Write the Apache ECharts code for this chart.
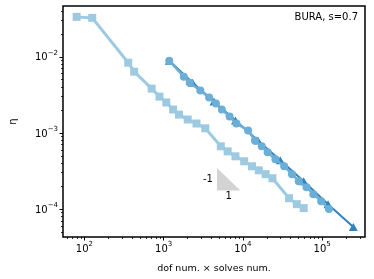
<!DOCTYPE html>
<html>
<head>
<meta charset="utf-8">
<script src="https://cdn.jsdelivr.net/npm/echarts@6/dist/echarts.min.js"></script>
<style>
html,body{margin:0;padding:0;background:#fff;}
#c{width:374px;height:279px;}
</style>
</head>
<body>
<div id="c"></div>
<script>
// ---- data ----
const sqX = [79.7, 125.4, 357, 424, 705, 885, 1079, 1315, 1559, 2011, 2594, 3347, 5264, 6416, 8049, 10380, 13020, 15880, 19370, 23610, 38200, 47900, 58500];
const sqY = [0.0334, 0.0324, 0.00835, 0.00637, 0.00382, 0.0030, 0.00251, 0.00203, 0.00174, 0.00150, 0.00133, 0.00115, 0.000667, 0.000573, 0.000493, 0.000424, 0.000365, 0.000323, 0.000287, 0.000254, 0.000139, 0.000116, 0.000103];
const ciX = [1175, 1795, 2128, 2905, 3748, 4571, 5420, 6796, 8282, 11630, 14190, 17300, 20510, 25720, 33190, 41610, 50730, 63560, 77480, 97230, 121800];
const ciY = [0.00887, 0.00548, 0.00457, 0.00360, 0.00291, 0.00243, 0.00203, 0.00164, 0.00133, 0.00108, 0.000798, 0.000667, 0.000556, 0.000451, 0.000365, 0.000287, 0.000232, 0.000194, 0.000157, 0.000127, 0.000100];
const trX = [1175, 2317, 4314, 8049, 15450, 29580, 58450, 118700, 247600];
const trY = [0.00887, 0.004571, 0.002582, 0.001455, 0.000798, 0.000437, 0.000232, 0.000116, 0.0000582];
const slopeX = [4700, 9300];
const slopeY = [0.000345, 0.000175];
const slopeLabels = ['-1', '1'];
const titleText = 'BURA, s=0.7';
const xLabelText = 'dof num. \u00d7 solves num.';
const yLabelText = '\u03b7';
const xMajorTicks = [100, 1000, 10000, 100000];
const yMajorTicks = [0.0001, 0.001, 0.01];
const xMinorTicks = [60, 70, 80, 90, 200, 300, 400, 500, 600, 700, 800, 900, 2000, 3000, 4000, 5000, 6000, 7000, 8000, 9000, 20000, 30000, 40000, 50000, 60000, 70000, 80000, 90000, 200000, 300000];
const yMinorTicks = [0.00005, 0.00006, 0.00007, 0.00008, 0.00009, 0.0002, 0.0003, 0.0004, 0.0005, 0.0006, 0.0007, 0.0008, 0.0009, 0.002, 0.003, 0.004, 0.005, 0.006, 0.007, 0.008, 0.009, 0.02, 0.03, 0.04];
const X_MIN = 53.6, X_MAX = 347500, Y_MIN = 0.000043, Y_MAX = 0.0464;

const FONT = 'DejaVu Sans';
const zip = (a, b) => a.map((v, i) => [v, b[i]]);

function powLabel(v) {
  const e = Math.round(Math.log10(v));
  return '{b|10}{s|' + (e < 0 ? '\u2212' + (-e) : e) + '}';
}
const rich = {
  b: {fontFamily: FONT, fontSize: 10, color: '#000', verticalAlign: 'bottom', lineHeight: 12},
  s: {fontFamily: FONT, fontSize: 7, color: '#000', verticalAlign: 'bottom', lineHeight: 8, padding: [0, 0, 6, 0]}
};

const chart = echarts.init(document.getElementById('c'));
const baseX = {type: 'log', logBase: 10, min: X_MIN, max: X_MAX, splitLine: {show: false}};
const baseY = {type: 'log', logBase: 10, min: Y_MIN, max: Y_MAX, splitLine: {show: false}};
chart.setOption({
  animation: false,
  backgroundColor: '#fff',
  grid: {left: 55, top: 6, right: 9, bottom: 41, show: true, borderColor: '#000', borderWidth: 1.5, backgroundColor: 'transparent'},
  title: {text: titleText, right: 11, top: 7, textStyle: {fontFamily: FONT, fontSize: 10, fontWeight: 'normal', color: '#000'}},
  xAxis: [
    Object.assign({}, baseX, {
      name: xLabelText, nameLocation: 'middle', nameGap: 27,
      nameTextStyle: {fontFamily: FONT, fontSize: 9.5, color: '#000'},
      axisLine: {show: false},
      axisTick: {show: true, length: 3.5, lineStyle: {color: '#000', width: 1}, customValues: xMajorTicks},
      axisLabel: {show: true, margin: 5, customValues: xMajorTicks, formatter: powLabel, rich: rich}
    }),
    Object.assign({}, baseX, {
      position: 'bottom',
      axisLine: {show: false},
      axisTick: {show: true, length: 2, lineStyle: {color: '#000', width: 0.8}, customValues: xMinorTicks},
      axisLabel: {show: false}
    })
  ],
  yAxis: [
    Object.assign({}, baseY, {
      name: yLabelText, nameLocation: 'middle', nameGap: 45, nameRotate: 90,
      nameTextStyle: {fontFamily: FONT, fontSize: 10, color: '#000'},
      axisLine: {show: false},
      axisTick: {show: true, length: 3.5, lineStyle: {color: '#000', width: 1}, customValues: yMajorTicks},
      axisLabel: {show: true, margin: 5, customValues: yMajorTicks, formatter: powLabel, rich: rich}
    }),
    Object.assign({}, baseY, {
      position: 'left',
      axisLine: {show: false},
      axisTick: {show: true, length: 2, lineStyle: {color: '#000', width: 0.8}, customValues: yMinorTicks},
      axisLabel: {show: false}
    })
  ],
  series: [
    {
      type: 'custom', z: 1, silent: true,
      data: [[slopeX[0], slopeY[0]]],
      renderItem: function (params, api) {
        const a = api.coord([slopeX[0], slopeY[0]]);
        const b = api.coord([slopeX[0], slopeY[1]]);
        const c = api.coord([slopeX[1], slopeY[1]]);
        return {
          type: 'group',
          children: [
            {type: 'polygon', shape: {points: [a, b, c]}, style: {fill: '#d3d3d3'}},
            {type: 'text', style: {text: slopeLabels[0], x: a[0] - 4, y: (a[1] + b[1]) / 2, align: 'right', verticalAlign: 'middle', font: '10px "DejaVu Sans"', fill: '#000'}},
            {type: 'text', style: {text: slopeLabels[1], x: (b[0] + c[0]) / 2, y: b[1] + 1, align: 'center', verticalAlign: 'top', font: '10px "DejaVu Sans"', fill: '#000'}}
          ]
        };
      }
    },
    {
      type: 'line', z: 2, data: zip(sqX, sqY),
      symbol: 'rect', symbolSize: 8, showAllSymbol: true,
      lineStyle: {color: '#9ecae1', width: 3},
      itemStyle: {color: '#9ecae1'}
    },
    {
      type: 'line', z: 3, data: zip(trX, trY),
      symbol: 'triangle', symbolSize: [9, 8], showAllSymbol: true,
      lineStyle: {color: '#3182bd', width: 2},
      itemStyle: {color: '#3182bd'}
    },
    {
      type: 'line', z: 4, data: zip(ciX, ciY),
      symbol: 'circle', symbolSize: 8, showAllSymbol: true,
      lineStyle: {color: '#6baed6', width: 2.5},
      itemStyle: {color: '#6baed6'}
    }
  ]
});
</script>
</body>
</html>
